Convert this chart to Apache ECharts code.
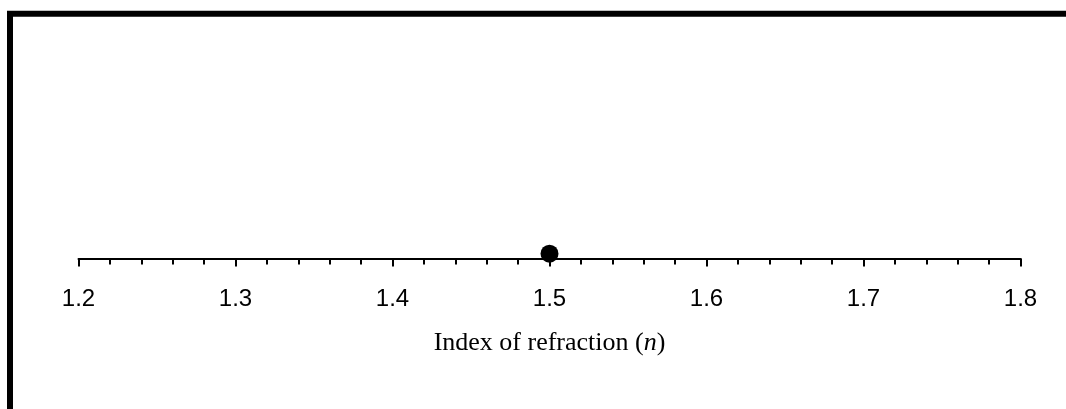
<!DOCTYPE html>
<html>
<head>
<meta charset="utf-8">
<script src="https://cdn.jsdelivr.net/npm/echarts@6/dist/echarts.min.js"></script>
<style>
html,body{margin:0;padding:0;background:#fff;}
#chart{width:1066px;height:409px;}
</style>
</head>
<body>
<div id="chart"></div>
<script>
// Data
const xTickLabels = ['1.2', '1.3', '1.4', '1.5', '1.6', '1.7', '1.8'];
const pointX = [1.5];
const pointY = [0.02];
const axisTitle = 'Index of refraction';
const axisVar = 'n';

const chart = echarts.init(document.getElementById('chart'));
const option = {
  animation: false,
  backgroundColor: '#fff',
  grid: { left: 78.5, right: 45.5, top: 16, bottom: 150.5 },
  xAxis: {
    type: 'value',
    min: 1.2, max: 1.8, interval: 0.1,
    axisLine: { show: true, onZero: false, lineStyle: { color: '#000', width: 2 } },
    axisTick: { show: true, length: 8, lineStyle: { color: '#000', width: 2 } },
    minorTick: { show: true, splitNumber: 5, length: 6, lineStyle: { color: '#000', width: 2 } },
    splitLine: { show: false },
    axisLabel: {
      margin: 29, fontFamily: 'Liberation Sans, Arial, sans-serif', fontSize: 24, color: '#000',
      formatter: function (v) {
        const i = Math.round((v - 1.2) / 0.1);
        return xTickLabels[i] !== undefined ? xTickLabels[i] : '';
      }
    },
    name: '{a|' + axisTitle + ' (}{b|' + axisVar + '}{a|)}',
    nameLocation: 'middle',
    nameGap: 72,
    nameTextStyle: {
      rich: {
        a: { fontFamily: 'Liberation Serif, Times New Roman, serif', fontSize: 26, color: '#000' },
        b: { fontFamily: 'Liberation Serif, Times New Roman, serif', fontSize: 26, fontStyle: 'italic', color: '#000' }
      }
    }
  },
  yAxis: {
    type: 'value', min: 0, max: 1, show: false
  },
  series: [{
    type: 'scatter',
    data: pointX.map((x, i) => [x, pointY[i]]),
    symbol: 'circle',
    symbolSize: 18,
    itemStyle: { color: '#000', opacity: 1 },
    z: 5
  }],
  graphic: [
    { type: 'line', shape: { x1: 7, y1: 13.75, x2: 1066, y2: 13.75 }, style: { stroke: '#000', lineWidth: 6 } },
    { type: 'line', shape: { x1: 10, y1: 11, x2: 10, y2: 409 }, style: { stroke: '#000', lineWidth: 6 } }
  ]
};
chart.setOption(option);
</script>
</body>
</html>
